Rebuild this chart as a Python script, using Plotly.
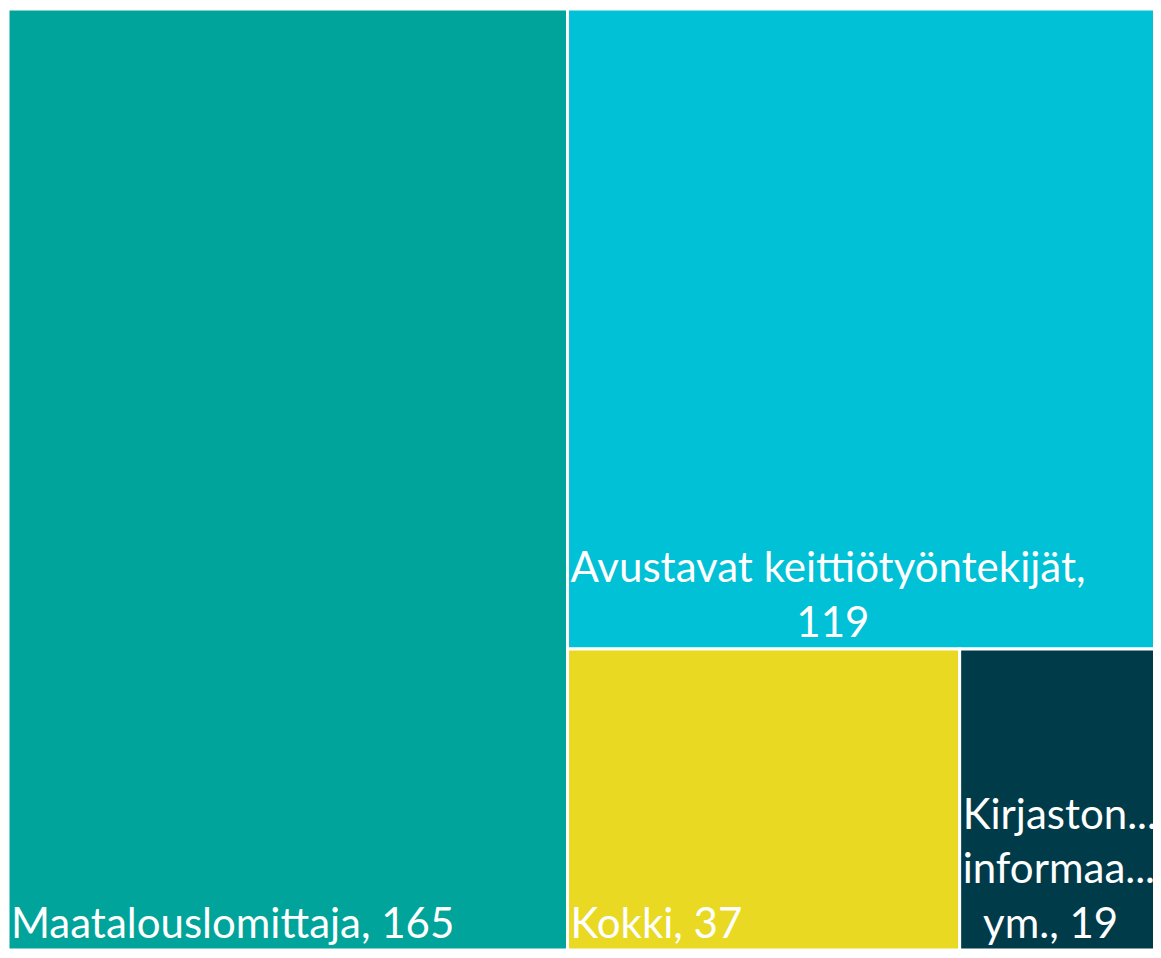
import plotly.graph_objects as go

labels = ["Maatalouslomittaja", "Avustavat keittiötyöntekijät", "Kokki",
          "Kirjaston- ja informaatioalan ym."]
values = [165, 119, 37, 19]
display = ["Maatalouslomittaja, 165",
           "Avustavat keittiötyöntekijät,<br>" + " " * 21 + "119",
           "Kokki, 37",
           "Kirjaston...<br>informaa...<br>" + " " * 2 + "ym., 19"]
colors = ["#00A49A", "#00C1D6", "#E9D923", "#003B4A"]

root = "Kaikki"
fig = go.Figure(go.Treemap(
    ids=[root] + labels,
    labels=[root] + labels,
    parents=[""] + [root] * len(labels),
    values=[sum(values)] + values,
    branchvalues="total",
    text=[""] + display,
    textinfo="text",
    textposition="bottom left",
    sort=True,
    tiling=dict(packing="squarify", pad=0),
    marker=dict(colors=["white"] + colors,
                line=dict(color="white", width=3),
                pad=dict(t=0, l=0, r=0, b=0)),
    textfont=dict(family="Segoe UI, Lato, sans-serif", size=42, color="white"),
    pathbar=dict(visible=False),
    hoverinfo="label+value",
))

fig.update_layout(
    width=1153, height=942,
    margin=dict(l=0, r=0, t=1, b=0),
    paper_bgcolor="white",
)

fig.write_html("out.html")
